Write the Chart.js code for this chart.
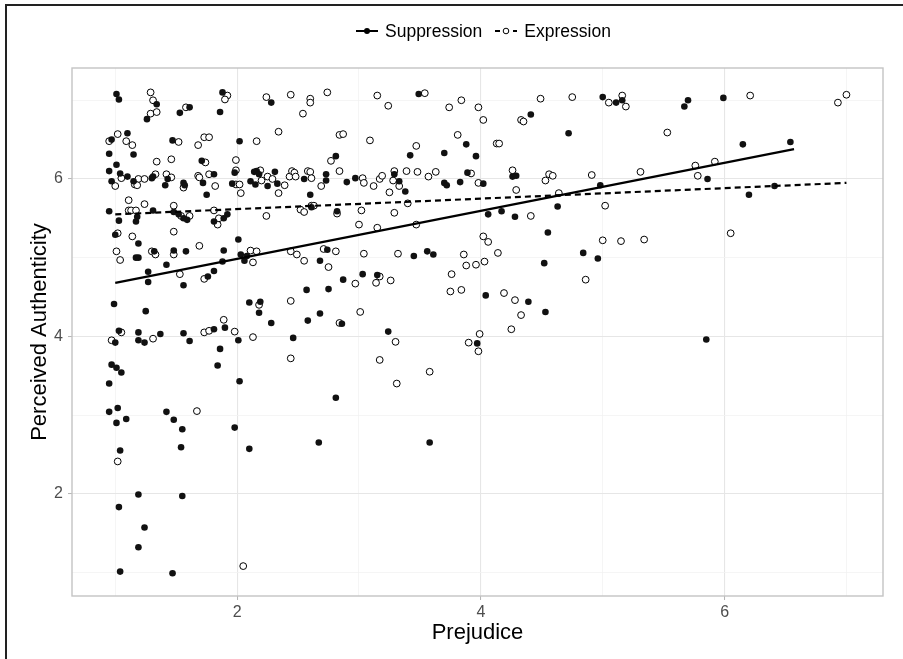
<!DOCTYPE html>
<html lang="en">
  <head>
    <meta charset="UTF-8" />
    <title>Perceived Authenticity by Prejudice</title>
    <script src="https://cdn.jsdelivr.net/npm/chart.js"></script>
    <style>
      html, body { margin: 0; padding: 0; background: #fff; overflow: hidden; }
      #wrap { position: relative; width: 903px; height: 659px; }
      #frame {
        position: absolute; left: 5px; top: 4px; right: 0; bottom: 0;
        border-top: 2px solid #222; border-left: 2px solid #222;
        pointer-events: none;
      }
      #legend {
        position: absolute; left: 356px; top: 19px; height: 24px;
        display: flex; align-items: center;
        font-family: "Liberation Sans", Arial, Helvetica, sans-serif;
        font-size: 17.5px; color: #000;
      }
      #legend .item { display: flex; align-items: center; }
      #legend svg { margin-right: 7px; }
      #legend .item + .item { margin-left: 13px; }
    </style>
  </head>
  <body>
    <div id="wrap">
      <canvas id="chart" width="903" height="659"></canvas>
      <div id="frame"></div>
      <div id="legend">
        <span class="item">
          <svg width="22" height="12"><line x1="0" y1="6" x2="22" y2="6" stroke="#000" stroke-width="2" /><circle cx="11" cy="6" r="3" fill="#000" /></svg>
          <span>Suppression</span>
        </span>
        <span class="item">
          <svg width="22" height="12"><line x1="0" y1="6" x2="22" y2="6" stroke="#000" stroke-width="2" stroke-dasharray="5,4" /><circle cx="11" cy="6" r="2.8" fill="#fff" stroke="#000" stroke-width="1" /></svg>
          <span>Expression</span>
        </span>
      </div>
    </div>
    <script>
      // axis setup
      const xMin = 0.645, xMax = 7.30;
      const yMin = 0.70, yMax = 7.41;
      const xTicks = [2, 4, 6];
      const yTicks = [2, 4, 6];
      const xGrid = [1, 2, 3, 4, 5, 6, 7];
      const yGrid = [1, 2, 3, 4, 5, 6, 7];

      // Suppression (filled points)
      const suppX = [1.01, 1.03, 1.34, 1.26, 1.53, 1.61, 1.88, 1.86, 2.28, 0.97, 1.10, 1.15, 0.95, 1.01, 0.95, 0.97, 1.04, 1.10, 1.15, 1.30,
        1.31, 1.41, 1.43, 1.47, 1.56, 1.57, 1.71, 1.81, 1.72, 1.75, 2.02, 1.98, 1.96, 2.14, 2.16, 2.18, 2.11, 2.15, 2.25, 2.31,
        2.33, 2.55, 2.60, 2.73, 2.73, 2.81, 2.82, 0.95, 1.03, 1.18, 1.17, 1.31, 1.48, 1.52, 1.56, 1.59, 1.81, 1.89, 1.92, 2.61,
        1.00, 1.19, 2.01, 1.17, 1.19, 1.32, 1.48, 1.58, 1.89, 1.88, 2.03, 2.06, 2.08, 2.68, 2.74, 1.27, 1.42, 1.76, 1.81, 1.27,
        1.56, 0.99, 1.25, 1.03, 1.19, 1.37, 1.56, 1.81, 1.90, 2.01, 1.00, 1.19, 1.24, 1.61, 1.86, 1.84, 2.02, 0.97, 1.01, 1.05,
        0.95, 0.95, 1.02, 1.01, 1.09, 1.04, 1.42, 1.48, 1.55, 1.54, 1.98, 2.10, 2.10, 2.19, 2.18, 2.28, 2.46, 2.57, 2.75, 2.58,
        2.68, 2.81, 2.67, 1.19, 1.55, 1.03, 1.24, 1.19, 1.04, 1.47, 3.49, 5.00, 4.41, 4.72, 3.88, 3.42, 3.70, 3.96, 2.90, 2.97,
        3.29, 3.33, 3.38, 3.70, 3.72, 3.83, 3.89, 4.02, 4.26, 4.29, 4.98, 4.06, 4.17, 4.28, 4.63, 4.55, 3.45, 3.56, 3.61, 4.52,
        4.84, 4.96, 3.03, 3.15, 2.87, 4.04, 4.39, 4.53, 2.86, 3.24, 3.97, 3.58, 5.11, 5.16, 5.67, 5.70, 5.99, 6.15, 6.54, 5.86,
        6.41, 6.20, 5.85];
      const suppY = [7.08, 7.01, 6.95, 6.76, 6.84, 6.91, 7.10, 6.85, 6.97, 6.50, 6.58, 6.31, 6.32, 6.18, 6.10, 5.97, 6.07, 6.03, 5.97, 6.01,
        6.03, 5.92, 6.00, 6.49, 5.95, 5.92, 6.23, 6.06, 5.95, 5.80, 6.48, 6.08, 5.94, 6.09, 6.10, 6.06, 5.97, 5.93, 5.91, 6.09,
        5.94, 6.00, 5.80, 6.06, 5.98, 6.29, 5.59, 5.59, 5.47, 5.52, 5.46, 5.60, 5.58, 5.55, 5.50, 5.48, 5.46, 5.50, 5.55, 5.64,
        5.29, 5.18, 5.23, 5.00, 5.00, 5.08, 5.09, 5.08, 5.09, 4.95, 5.04, 4.96, 5.02, 4.96, 5.10, 4.82, 4.91, 4.76, 4.83, 4.69,
        4.65, 4.41, 4.32, 4.07, 4.05, 4.03, 4.04, 4.09, 4.11, 3.95, 3.92, 3.95, 3.92, 3.94, 3.84, 3.63, 3.43, 3.64, 3.60, 3.54,
        3.40, 3.04, 3.09, 2.90, 2.95, 2.55, 3.04, 2.94, 2.82, 2.59, 2.84, 2.57, 4.43, 4.44, 4.30, 4.17, 3.98, 4.59, 4.60, 4.20,
        4.29, 3.22, 2.65, 1.99, 1.97, 1.83, 1.57, 1.32, 1.01, 0.99, 7.08, 7.04, 6.82, 6.58, 6.44, 6.30, 6.33, 6.29, 5.96, 6.01,
        6.06, 5.97, 5.84, 5.95, 5.92, 5.96, 6.08, 5.94, 6.03, 6.04, 5.92, 5.55, 5.59, 5.52, 5.65, 5.32, 5.02, 5.08, 5.04, 4.93,
        5.06, 4.99, 4.79, 4.78, 4.72, 4.52, 4.44, 4.31, 4.16, 4.06, 3.91, 2.65, 6.97, 7.00, 6.92, 7.00, 7.03, 6.44, 6.47, 6.00,
        5.91, 5.80, 3.96];

      // Expression (open points)
      const exprX = [1.29, 1.31, 1.29, 1.34, 1.58, 1.92, 1.90, 2.24, 2.44, 2.60, 2.60, 2.74, 2.54, 2.34, 0.95, 1.02, 1.09, 1.14, 1.00, 1.05,
        1.19, 1.16, 1.18, 1.24, 1.33, 1.34, 1.42, 1.46, 1.46, 1.52, 1.56, 1.68, 1.73, 1.77, 1.74, 1.68, 1.69, 1.77, 1.82, 2.16,
        1.99, 1.99, 1.99, 2.02, 2.03, 2.19, 2.20, 2.25, 2.29, 2.34, 2.39, 2.43, 2.45, 2.47, 2.48, 2.58, 2.60, 2.61, 2.69, 2.77,
        2.84, 2.84, 1.11, 1.11, 1.13, 1.17, 1.24, 1.48, 1.54, 1.61, 1.81, 1.84, 1.85, 2.24, 2.52, 2.55, 2.61, 2.63, 2.82, 1.02,
        1.14, 1.48, 1.01, 1.04, 1.30, 1.33, 1.48, 1.69, 2.11, 2.16, 2.13, 2.44, 2.49, 2.55, 2.71, 2.75, 2.81, 1.53, 1.73, 1.05,
        1.73, 1.77, 1.89, 1.98, 2.13, 0.97, 1.31, 1.02, 1.67, 2.18, 2.44, 2.44, 2.84, 2.05, 3.15, 3.24, 3.54, 3.74, 3.84, 3.98,
        4.02, 4.49, 4.75, 5.05, 4.33, 4.35, 2.87, 3.09, 3.81, 3.47, 4.13, 4.15, 3.03, 3.04, 3.12, 3.17, 3.19, 3.28, 3.29, 3.33,
        3.25, 3.39, 3.48, 3.57, 3.63, 3.92, 3.98, 4.26, 4.29, 4.53, 4.56, 4.59, 4.91, 4.64, 3.40, 3.02, 3.29, 3.00, 3.15, 3.47,
        4.41, 5.02, 4.02, 4.06, 5.00, 3.04, 3.32, 3.86, 4.14, 3.88, 3.96, 4.03, 3.76, 3.17, 3.26, 4.86, 2.97, 3.14, 3.75, 3.84,
        4.19, 4.28, 4.33, 4.25, 3.01, 3.30, 3.17, 3.58, 3.31, 3.99, 3.90, 3.98, 5.16, 5.19, 6.21, 6.93, 7.00, 5.53, 5.31, 5.76,
        5.78, 5.92, 5.15, 5.34, 6.05];
      const exprY = [7.10, 7.00, 6.83, 6.85, 6.91, 7.06, 7.01, 7.04, 7.07, 7.02, 6.97, 7.10, 6.83, 6.60, 6.48, 6.57, 6.48, 6.43, 5.91, 6.01,
        6.00, 5.93, 5.92, 6.00, 6.06, 6.22, 6.06, 6.02, 6.25, 6.47, 5.89, 6.43, 6.53, 6.53, 6.21, 6.04, 6.02, 6.06, 5.91, 6.48,
        6.24, 6.11, 5.93, 5.93, 5.82, 6.11, 5.98, 6.03, 6.00, 5.82, 5.92, 6.03, 6.10, 6.08, 6.03, 6.10, 6.09, 6.01, 5.91, 6.23,
        6.10, 6.56, 5.73, 5.60, 5.60, 5.60, 5.68, 5.66, 5.53, 5.53, 5.60, 5.42, 5.50, 5.53, 5.61, 5.58, 5.66, 5.66, 5.56, 5.31,
        5.27, 5.33, 5.08, 4.97, 5.08, 5.04, 5.04, 5.15, 5.09, 5.08, 4.94, 5.08, 5.04, 4.96, 5.11, 4.88, 5.08, 4.79, 4.73, 4.05,
        4.05, 4.07, 4.21, 4.06, 3.99, 3.95, 3.97, 2.41, 3.05, 4.40, 4.45, 3.72, 4.17, 1.08, 7.06, 6.93, 7.09, 6.91, 7.00, 6.91,
        6.75, 7.02, 7.04, 6.97, 6.75, 6.73, 6.57, 6.49, 6.56, 6.42, 6.45, 6.45, 6.01, 5.95, 5.91, 6.00, 6.04, 5.98, 6.10, 5.91,
        5.83, 6.10, 6.09, 6.03, 6.09, 6.07, 5.95, 6.11, 5.86, 5.98, 6.06, 6.04, 6.05, 5.82, 5.69, 5.60, 5.57, 5.42, 5.38, 5.42,
        5.53, 5.66, 5.27, 5.20, 5.22, 5.05, 5.05, 5.04, 5.06, 4.90, 4.91, 4.95, 4.79, 4.76, 4.71, 4.72, 4.67, 4.68, 4.57, 4.59,
        4.55, 4.46, 4.27, 4.09, 4.31, 3.93, 3.70, 3.55, 3.40, 4.03, 3.92, 3.81, 7.06, 6.92, 7.06, 6.97, 7.07, 6.59, 6.09, 6.17,
        6.04, 6.22, 5.21, 5.23, 5.31];

      // fitted lines (end points)
      const suppFitX = [1.00, 6.57];
      const suppFitY = [4.68, 6.38];
      const exprFitX = [1.00, 7.00];
      const exprFitY = [5.55, 5.95];

      const FONT = '"Liberation Sans", Arial, Helvetica, sans-serif';
      const toPoints = (xs, ys) => xs.map((x, i) => ({ x: x, y: ys[i] }));

      const panelBorder = {
        id: "panelBorder",
        afterDraw(chart) {
          const { ctx, chartArea: a } = chart;
          ctx.save();
          ctx.strokeStyle = "#c4c4c4";
          ctx.lineWidth = 1.4;
          ctx.strokeRect(a.left, a.top, a.right - a.left, a.bottom - a.top);
          ctx.restore();
        },
      };

      function axis(min, max, grid, labels, titleText, isX) {
        return {
          type: "linear",
          min: min,
          max: max,
          afterBuildTicks: (s) => { s.ticks = grid.map((v) => ({ value: v })); },
          afterFit: (s) => {
            if (isX) s.height = 50;
            else s.width = 45;
          },
          border: { display: false },
          grid: {
            color: (c) => (labels.includes(c.tick.value) ? "#e6e6e6" : "#f3f3f3"),
            lineWidth: (c) => (labels.includes(c.tick.value) ? 1.1 : 0.8),
            tickColor: (c) => (labels.includes(c.tick.value) ? "#b3b3b3" : "rgba(0,0,0,0)"),
            tickLength: 4,
            tickWidth: 1,
          },
          ticks: {
            autoSkip: false,
            maxRotation: 0,
            padding: isX ? 3 : 5,
            color: "#4d4d4d",
            font: { family: FONT, size: 16 },
            callback: (v) => (labels.includes(v) ? String(v) : ""),
          },
          title: {
            display: true,
            text: titleText,
            color: "#000",
            padding: 0,
            font: { family: FONT, size: 22 },
          },
        };
      }

      const ctx = document.getElementById("chart").getContext("2d");
      new Chart(ctx, {
        type: "scatter",
        data: {
          datasets: [
            {
              label: "Suppression fit",
              type: "line",
              data: toPoints(suppFitX, suppFitY),
              borderColor: "#000",
              borderWidth: 2.2,
              pointRadius: 0,
              fill: false,
              order: 0,
            },
            {
              label: "Expression fit",
              type: "line",
              data: toPoints(exprFitX, exprFitY),
              borderColor: "#000",
              borderWidth: 2.2,
              borderDash: [6, 4],
              pointRadius: 0,
              fill: false,
              order: 0,
            },
            {
              label: "Suppression",
              data: toPoints(suppX, suppY),
              pointRadius: 3.3,
              backgroundColor: "#111",
              borderColor: "#111",
              borderWidth: 0,
              order: 1,
            },
            {
              label: "Expression",
              data: toPoints(exprX, exprY),
              pointRadius: 3.4,
              backgroundColor: "#fff",
              borderColor: "#000",
              borderWidth: 1,
              order: 2,
            },
          ],
        },
        options: {
          responsive: false,
          animation: false,
          events: [],
          layout: { padding: { left: 27, right: 20, top: 68, bottom: 13 } },
          plugins: { legend: { display: false }, tooltip: { enabled: false } },
          scales: {
            x: axis(xMin, xMax, xGrid, xTicks, "Prejudice", true),
            y: axis(yMin, yMax, yGrid, yTicks, "Perceived Authenticity", false),
          },
        },
        plugins: [panelBorder],
      });
    </script>
  </body>
</html>
